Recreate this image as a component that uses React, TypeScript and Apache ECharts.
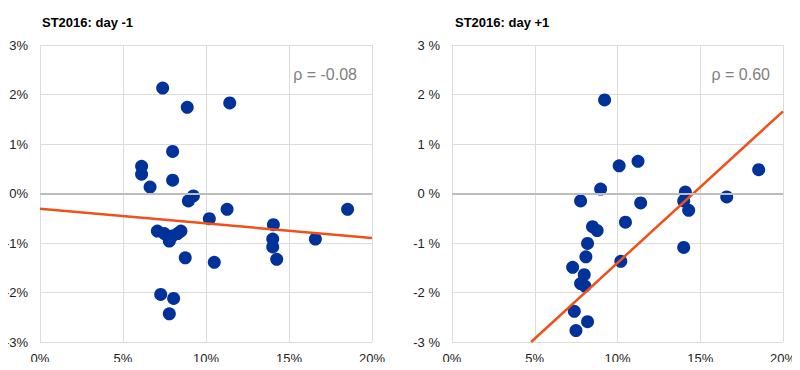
import React, { useEffect, useRef } from "react";
import * as echarts from "echarts";

const xTicks = [0, 5, 10, 15, 20];
const yTicks = [-3, -2, -1, 0, 1, 2, 3];

const leftTitle = "ST2016: day -1";
const rightTitle = "ST2016: day +1";
const leftRho = "ρ = -0.08";
const rightRho = "ρ = 0.60";

// [x (%), return y (%)]
const dayMinus1: [number, number][] = [
  [7.39, 2.13], [8.87, 1.74], [11.43, 1.83], [7.99, 0.85], [6.12, 0.55],
  [6.12, 0.39], [7.99, 0.27], [6.63, 0.13], [9.24, -0.05], [8.94, -0.15],
  [11.27, -0.32], [10.2, -0.51], [18.53, -0.32], [14.06, -0.63],
  [7.07, -0.76], [7.49, -0.81], [7.79, -0.96], [7.97, -0.86], [8.29, -0.81],
  [8.49, -0.76], [14.02, -0.92], [14.02, -1.08], [16.59, -0.92],
  [8.75, -1.3], [10.5, -1.39], [14.26, -1.33], [7.27, -2.04], [8.05, -2.12],
  [7.79, -2.43],
];

const dayPlus1: [number, number][] = [
  [9.22, 1.89], [10.1, 0.56], [11.24, 0.65], [18.53, 0.48], [8.98, 0.09],
  [14.1, 0.03], [7.77, -0.15], [14.0, -0.15], [11.4, -0.19], [16.6, -0.07],
  [14.3, -0.34], [10.48, -0.58], [8.49, -0.67], [8.77, -0.75], [8.19, -1.01],
  [14.0, -1.09], [8.09, -1.28], [10.2, -1.37], [7.29, -1.49], [7.99, -1.64],
  [7.77, -1.82], [8.03, -1.87], [7.39, -2.38], [8.19, -2.59], [7.49, -2.77],
];

const fitMinus1: [number, number][] = [[0, -0.31], [20, -0.9]];
const fitPlus1: [number, number][] = [[4.78, -3], [20, 1.66]];

const BLUE = "#003299";
const ORANGE = "#f0501a";
const FONT = "'Liberation Sans', Arial, sans-serif";

export default function App() {
  const ref = useRef<HTMLDivElement>(null);
  useEffect(() => {
    if (!ref.current) return;
    const chart = echarts.init(ref.current, undefined, { renderer: "svg" });
    const xAxis = (gi: number) => ({
      type: "value",
      gridIndex: gi,
      min: xTicks[0],
      max: xTicks[xTicks.length - 1],
      interval: 5,
      axisLine: { show: false },
      axisTick: { show: false },
      axisLabel: {
        formatter: "{value}%",
        color: "#222",
        fontSize: 13,
        fontFamily: FONT,
        margin: 10,
      },
      splitLine: { show: true, lineStyle: { color: "#dcdcdc", width: 1 } },
    });
    const yAxis = (gi: number, fmt: string) => ({
      type: "value",
      gridIndex: gi,
      min: yTicks[0],
      max: yTicks[yTicks.length - 1],
      interval: 1,
      axisLine: { show: false },
      axisTick: { show: false },
      axisLabel: {
        formatter: fmt,
        color: "#222",
        fontSize: 13,
        fontFamily: FONT,
        margin: 12,
      },
      splitLine: { show: true, lineStyle: { color: "#dcdcdc", width: 1 } },
    });
    const zeroLine = {
      silent: true,
      symbol: "none",
      label: { show: false },
      lineStyle: { color: "#bdbdbd", width: 2, type: "solid" },
      data: [{ yAxis: 0 }],
    };
    const option = {
      animation: false,
      backgroundColor: "#fff",
      title: [
        { text: leftTitle, left: 37, top: 11, textStyle: { fontSize: 13, fontWeight: "bold", color: "#000", fontFamily: FONT } },
        { text: rightTitle, left: 450, top: 11, textStyle: { fontSize: 13, fontWeight: "bold", color: "#000", fontFamily: FONT } },
        { text: leftRho, right: 438, top: 61, textStyle: { fontSize: 16, fontWeight: "normal", color: "#808080", fontFamily: FONT } },
        { text: rightRho, right: 25, top: 61, textStyle: { fontSize: 16, fontWeight: "normal", color: "#808080", fontFamily: FONT } },
      ],
      grid: [
        { left: 40, width: 332, top: 45, height: 297 },
        { left: 452, width: 331, top: 45, height: 297 },
      ],
      xAxis: [xAxis(0), xAxis(1)],
      yAxis: [yAxis(0, "{value}%"), yAxis(1, "{value} %")],
      series: [
        {
          type: "line", xAxisIndex: 0, yAxisIndex: 0, data: [[0, 0], [20, 0]],
          showSymbol: false, symbol: "none", lineStyle: { width: 0 }, markLine: zeroLine, z: 1,
        },
        {
          type: "line", xAxisIndex: 1, yAxisIndex: 1, data: [[0, 0], [20, 0]],
          showSymbol: false, symbol: "none", lineStyle: { width: 0 }, markLine: zeroLine, z: 1,
        },
        {
          type: "scatter", xAxisIndex: 0, yAxisIndex: 0, data: dayMinus1,
          symbolSize: 13, itemStyle: { color: BLUE, opacity: 1 }, z: 3,
        },
        {
          type: "scatter", xAxisIndex: 1, yAxisIndex: 1, data: dayPlus1,
          symbolSize: 13, itemStyle: { color: BLUE, opacity: 1 }, z: 3,
        },
        {
          type: "line", xAxisIndex: 0, yAxisIndex: 0, data: fitMinus1,
          symbol: "none", lineStyle: { color: ORANGE, width: 2.5 }, z: 4,
        },
        {
          type: "line", xAxisIndex: 1, yAxisIndex: 1, data: fitPlus1,
          symbol: "none", lineStyle: { color: ORANGE, width: 2.5 }, z: 4,
        },
      ],
    };
    chart.setOption(option as any);
    return () => chart.dispose();
  }, []);
  return <div ref={ref} style={{ width: 800, height: 370, margin: -8 }} />;
}
